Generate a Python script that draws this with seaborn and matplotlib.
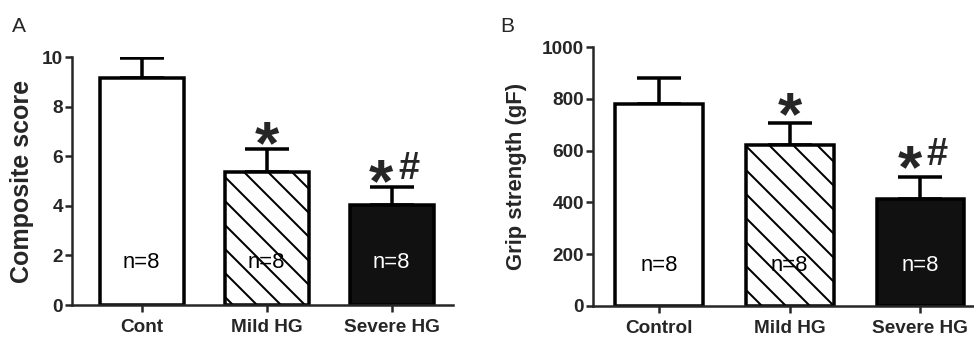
import matplotlib
matplotlib.use("Agg")
import matplotlib.pyplot as plt
import numpy as np
import pandas as pd
import seaborn as sns

# panel A - composite score
groups_a = ['Cont', 'Mild HG', 'Severe HG']
score_mean = [9.15, 5.36, 4.02]
score_sem = [0.80, 0.93, 0.74]

# panel B - grip strength
groups_b = ['Control', 'Mild HG', 'Severe HG']
grip_mean = [778, 620, 412]
grip_sem = [104, 85, 86]

n_labels = ['n=8', 'n=8', 'n=8']
sig_star = ['', '*', '*']
sig_hash = ['', '', '#']

fills = ['white', 'white', '#111111']
hatches = ['', '\\', '']
n_colors = ['black', 'black', 'white']

sns.set_style('ticks')
plt.rcParams['font.family'] = ['Liberation Sans', 'DejaVu Sans']
plt.rcParams['font.weight'] = 'bold'
plt.rcParams['hatch.linewidth'] = 2.0
plt.rcParams['hatch.color'] = 'black'

# dpi 72 so that 1pt == 1px and hatch spacing is ~12px
fig = plt.figure(figsize=(974 / 72, 337 / 72), dpi=72)
axA = fig.add_axes([72 / 974, 32 / 337, 381 / 974, 248 / 337])
axB = fig.add_axes([593 / 974, 31 / 337, 381 / 974, 259 / 337])

STAR_SIZE = 62
HASH_SIZE = 38


def draw_panel(ax, groups, means, sems, yticks, ylabel, ylab_size, ylab_pad,
               n_y, gap, xlim):
    df = pd.DataFrame({'group': groups, 'mean': means})
    sns.barplot(data=df, x='group', y='mean', hue='group', palette=fills,
                legend=False, width=0.67, saturation=1, edgecolor='black',
                linewidth=3.5, ax=ax, zorder=2)
    for bar, h in zip(ax.patches, hatches):
        bar.set_hatch(h)
    pos = np.arange(len(groups))
    ax.errorbar(pos, means, yerr=[np.zeros(len(sems)), sems], fmt='none',
                ecolor='black', elinewidth=3.5, capsize=22, capthick=3.5,
                zorder=1)

    for i in range(len(groups)):
        ax.text(i, n_y, n_labels[i], ha='center', va='center', fontsize=22,
                fontweight='normal', color=n_colors[i], zorder=3)
        top = means[i] + sems[i]
        if sig_star[i]:
            dx = -11 if sig_hash[i] else 0
            ax.annotate(sig_star[i], xy=(i, top),
                        xytext=(dx, gap - 0.36 * STAR_SIZE),
                        textcoords='offset points', ha='center',
                        va='baseline', fontsize=STAR_SIZE, fontweight='bold')
        if sig_hash[i]:
            ax.annotate(sig_hash[i], xy=(i, top), xytext=(17, gap),
                        textcoords='offset points', ha='center',
                        va='baseline', fontsize=HASH_SIZE, fontweight='bold')

    ax.set_xlim(*xlim)
    ax.set_ylim(yticks[0], yticks[-1])
    ax.set_yticks(yticks)
    ax.set_xlabel('')
    ax.set_ylabel(ylabel, fontsize=ylab_size, fontweight='bold',
                  labelpad=ylab_pad)
    sns.despine(ax=ax)
    for side in ['left', 'bottom']:
        ax.spines[side].set_linewidth(2.5)
    ax.tick_params(axis='both', length=7, width=2.5, labelsize=19,
                   direction='out')
    ax.tick_params(axis='y', pad=2)
    ax.tick_params(axis='x', pad=7)


draw_panel(axA, groups_a, score_mean, score_sem, [0, 2, 4, 6, 8, 10],
           'Composite score', 25, 8, 1.7, 8, (-0.557, 2.49))
draw_panel(axB, groups_b, grip_mean, grip_sem, [0, 200, 400, 600, 800, 1000],
           'Grip strength (gF)', 22, 15, 158, 12, (-0.506, 2.41))

fig.text(12 / 974, 1 - 32 / 337, 'A', fontsize=21, fontweight='normal',
         va='baseline')
fig.text(500 / 974, 1 - 32 / 337, 'B', fontsize=21, fontweight='normal',
         va='baseline')

fig.savefig('out.png', dpi=72)
